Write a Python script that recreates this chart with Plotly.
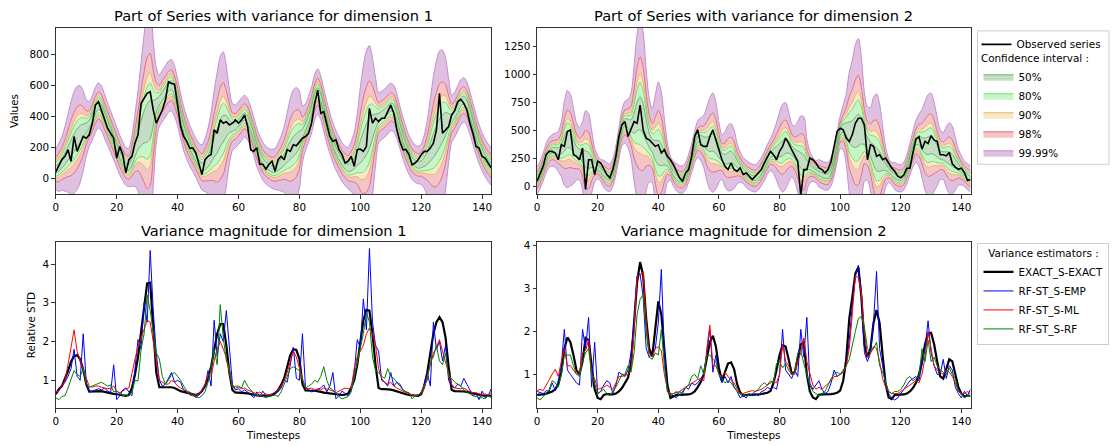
import plotly.graph_objects as go
from statistics import NormalDist

W, H = 1113, 446

# ---- dimension 1 ----
obs_dim1 = [
    40, 77, 120, 141, 183, 109, 269, 173, 216, 269, 258, 280,
    355, 472, 494, 440, 376, 323, 290, 258, 130, 205, 152, 34,
    119, 141, 226, 280, 483, 515, 547, 558, 440, 355, 397, 440,
    504, 622, 611, 607, 472, 333, 269, 237, 194, 194, 162, 98,
    23, 119, 141, 152, 312, 290, 376, 355, 365, 344, 355, 376,
    355, 376, 408, 333, 183, 173, 197, 90, 90, 58, 90, 109,
    45, 119, 141, 119, 184, 173, 216, 209, 237, 258, 269, 290,
    355, 480, 568, 419, 429, 355, 269, 237, 248, 184, 152, 98,
    109, 141, 77, 184, 188, 173, 205, 451, 355, 387, 365, 387,
    387, 429, 472, 419, 312, 237, 184, 184, 152, 87, 98, 119,
    152, 173, 173, 194, 226, 312, 547, 290, 312, 333, 408, 436,
    494, 509, 483, 440, 355, 290, 205, 194, 141, 130, 98, 66,
]
mean_dim1 = [
    55, 70, 95, 125, 160, 195, 230, 260, 285, 305, 325, 350,
    390, 440, 470, 450, 400, 350, 300, 250, 200, 150, 110, 75,
    70, 110, 180, 240, 290, 330, 355, 380, 420, 470, 500, 530,
    560, 590, 600, 560, 490, 400, 320, 260, 210, 170, 130, 95,
    70, 85, 110, 150, 200, 240, 290, 320, 335, 335, 330, 335,
    355, 380, 400, 380, 330, 270, 200, 150, 110, 85, 70, 60,
    60, 75, 95, 120, 150, 180, 205, 225, 250, 285, 330, 380,
    440, 520, 560, 520, 440, 360, 290, 230, 180, 140, 105, 80,
    65, 75, 95, 130, 170, 210, 250, 290, 330, 365, 390, 405,
    420, 440, 460, 450, 400, 330, 260, 200, 150, 115, 95, 85,
    90, 105, 130, 170, 210, 250, 290, 320, 350, 370, 385, 410,
    450, 490, 505, 480, 420, 350, 280, 220, 170, 130, 100, 75,
]
std_exact_dim1 = [
    0.64, 0.77, 0.85, 1.03, 1.24, 1.48, 1.62, 1.65, 1.54, 1.28, 0.9, 0.71,
    0.71, 0.72, 0.72, 0.72, 0.7, 0.68, 0.66, 0.65, 0.64, 0.63, 0.62, 0.6,
    0.62, 0.8, 1.15, 1.6, 2.25, 2.95, 3.5, 3.52, 2.3, 1.2, 0.82, 0.82,
    0.82, 0.82, 0.82, 0.8, 0.75, 0.72, 0.7, 0.68, 0.65, 0.63, 0.62, 0.65,
    0.72, 0.85, 1.05, 1.35, 1.8, 2.2, 2.45, 2.45, 1.9, 1.2, 0.75, 0.68,
    0.68, 0.68, 0.67, 0.66, 0.64, 0.62, 0.61, 0.6, 0.6, 0.6, 0.6, 0.62,
    0.66, 0.75, 0.88, 1.05, 1.35, 1.65, 1.8, 1.78, 1.55, 0.9, 0.74, 0.73,
    0.73, 0.73, 0.72, 0.7, 0.68, 0.67, 0.65, 0.64, 0.63, 0.62, 0.62, 0.63,
    0.66, 0.8, 1.0, 1.4, 2.05, 2.55, 2.82, 2.8, 2.2, 1.4, 0.8, 0.77,
    0.77, 0.77, 0.76, 0.74, 0.71, 0.68, 0.66, 0.64, 0.62, 0.61, 0.6, 0.6,
    0.64, 0.85, 1.2, 1.7, 2.2, 2.5, 2.63, 2.5, 2.1, 1.35, 0.75, 0.72,
    0.72, 0.72, 0.71, 0.7, 0.68, 0.66, 0.64, 0.62, 0.61, 0.6, 0.6, 0.6,
]
std_emp_dim1 = [
    0.65, 0.75, 0.85, 0.95, 1.1, 1.3, 1.8, 1.1, 1.0, 2.2, 0.95, 0.7,
    0.72, 0.75, 0.78, 0.75, 0.8, 0.72, 0.68, 1.4, 0.5, 0.6, 0.75, 0.8,
    0.7, 0.6, 1.3, 2.05, 1.8, 3.0, 2.5, 4.35, 2.8, 1.7, 1.0, 0.85,
    0.9, 1.05, 1.2, 0.95, 1.0, 0.95, 0.75, 0.68, 0.7, 0.62, 0.55, 0.62,
    0.75, 0.85, 1.25, 0.85, 2.55, 1.6, 2.2, 2.0, 2.8, 1.9, 0.9, 0.75,
    0.78, 0.7, 0.75, 0.7, 0.62, 0.55, 0.7, 0.58, 0.72, 0.6, 0.62, 0.65,
    0.68, 0.7, 0.8, 1.0, 0.95, 1.4, 1.85, 1.05, 1.0, 2.2, 0.8, 0.75,
    0.7, 0.72, 0.75, 0.8, 0.88, 0.7, 0.85, 1.2, 0.52, 0.6, 0.72, 0.65,
    0.6, 0.75, 1.2, 2.05, 1.85, 3.1, 2.3, 4.4, 2.5, 1.9, 1.75, 1.0,
    0.95, 0.85, 1.2, 0.85, 0.95, 0.9, 0.75, 0.7, 0.65, 0.62, 0.6, 0.62,
    0.65, 0.9, 1.2, 0.85, 2.5, 1.8, 2.0, 1.5, 1.9, 1.0, 0.85, 0.8,
    0.9, 0.85, 1.05, 0.9, 0.75, 0.6, 0.65, 0.5, 0.72, 0.55, 0.6, 0.78,
]
std_ml_dim1 = [
    0.7, 0.72, 0.85, 1.0, 1.4, 1.85, 2.3, 1.75, 1.5, 1.3, 1.05, 0.85,
    0.82, 0.85, 0.85, 0.82, 0.8, 0.78, 0.8, 0.85, 0.72, 0.68, 0.72, 0.78,
    0.8, 1.2, 1.55, 1.85, 2.1, 2.3, 2.55, 2.5, 2.0, 1.4, 1.0, 0.95,
    0.9, 0.9, 1.0, 0.95, 0.85, 0.8, 0.75, 0.72, 0.68, 0.62, 0.62, 0.65,
    0.75, 0.9, 1.15, 1.1, 1.5, 1.8, 2.0, 1.8, 1.6, 1.2, 0.85, 0.8,
    0.82, 0.78, 0.8, 0.75, 0.72, 0.68, 0.65, 0.7, 0.62, 0.65, 0.62, 0.65,
    0.7, 0.75, 0.85, 1.0, 1.2, 1.5, 1.75, 1.6, 1.3, 1.05, 0.8, 0.78,
    0.8, 0.75, 0.78, 0.75, 0.8, 0.78, 0.75, 0.72, 0.68, 0.72, 0.75, 0.8,
    0.78, 0.8, 1.3, 1.6, 1.75, 1.9, 2.2, 2.35, 2.2, 1.9, 1.3, 1.05,
    0.95, 0.9, 0.95, 0.85, 0.8, 0.75, 0.72, 0.68, 0.65, 0.62, 0.6, 0.62,
    0.65, 0.8, 1.1, 1.4, 1.7, 1.85, 2.05, 1.75, 1.45, 1.2, 0.9, 0.8,
    0.78, 0.78, 0.8, 0.75, 0.7, 0.68, 0.68, 0.65, 0.62, 0.65, 0.62, 0.68,
]
std_rf_dim1 = [
    0.55, 0.5, 0.58, 0.6, 0.8, 1.05, 1.25, 1.15, 1.1, 1.3, 0.9, 0.82,
    0.85, 0.88, 0.9, 0.95, 0.9, 0.85, 0.88, 0.7, 0.72, 0.65, 0.6, 0.62,
    0.6, 0.7, 1.0, 0.98, 1.8, 2.2, 3.2, 2.8, 2.2, 1.7, 1.55, 1.1,
    0.9, 1.0, 1.15, 1.2, 1.1, 1.0, 0.85, 0.75, 0.62, 0.6, 0.58, 0.55,
    0.6, 0.7, 0.95, 1.3, 1.8, 1.4, 2.95, 2.1, 1.5, 1.3, 0.8, 0.85,
    0.85, 0.8, 1.0, 0.85, 0.75, 0.65, 0.6, 0.62, 0.58, 0.55, 0.58, 0.6,
    0.62, 0.58, 0.7, 0.9, 1.1, 1.3, 1.35, 1.3, 1.25, 1.0, 0.8, 0.85,
    0.9, 1.0, 0.95, 1.1, 1.35, 1.0, 0.8, 0.75, 0.65, 0.58, 0.52, 0.55,
    0.58, 0.7, 1.1, 1.5, 1.8, 2.2, 2.75, 2.5, 1.6, 1.25, 1.2, 1.1,
    1.05, 1.3, 1.1, 1.05, 0.95, 0.85, 0.75, 0.7, 0.68, 0.52, 0.6, 0.62,
    0.7, 0.85, 1.0, 1.5, 1.6, 1.9, 1.5, 1.4, 1.7, 1.1, 1.05, 0.95,
    0.9, 0.85, 0.75, 0.7, 0.65, 0.6, 0.58, 0.55, 0.55, 0.52, 0.6, 0.55,
]

# ---- dimension 2 ----
obs_dim2 = [
    44, 104, 177, 281, 310, 310, 296, 236, 369, 355, 488, 502,
    281, 266, 236, 340, -30, 236, 236, 104, 222, 207, 148, 104,
    74, 148, 266, 443, 547, 576, 443, 502, 576, 561, 724, 502,
    429, 414, 384, 355, 369, 296, 325, 266, 236, 192, 133, 74,
    44, 118, 148, 266, 443, 502, 369, 355, 355, 443, 502, 414,
    310, 236, 177, 148, 207, 148, 133, 163, 104, 118, 89, 59,
    89, 118, 148, 207, 266, 310, 281, 236, 310, 355, 429, 384,
    325, 266, 222, -89, 148, 148, 251, 236, 207, 163, 148, 118,
    148, 222, 355, 488, 517, 502, 429, 399, 458, 561, 606, 606,
    547, 236, 369, 355, 266, 281, 236, 251, 207, 163, 133, 89,
    74, 100, 160, 160, 300, 420, 440, 330, 400, 380, 450, 410,
    400, 280, 280, 270, 300, 200, 170, 150, 160, 120, 50, 60,
]
mean_dim2 = [
    50, 100, 170, 250, 300, 320, 320, 310, 330, 380, 420, 410,
    360, 310, 290, 270, 240, 230, 215, 190, 170, 140, 110, 85,
    75, 120, 230, 380, 520, 570, 560, 540, 560, 620, 650, 600,
    500, 410, 360, 320, 300, 280, 250, 210, 160, 110, 80, 60,
    60, 90, 160, 250, 350, 420, 420, 400, 380, 380, 390, 360,
    300, 260, 240, 250, 260, 240, 200, 170, 140, 110, 90, 75,
    70, 90, 130, 180, 240, 280, 300, 310, 320, 340, 360, 350,
    320, 290, 260, 230, 210, 190, 170, 150, 130, 115, 100, 90,
    90, 130, 220, 350, 480, 520, 510, 480, 470, 480, 500, 490,
    440, 380, 330, 280, 240, 220, 200, 170, 140, 110, 90, 75,
    70, 90, 150, 240, 330, 400, 410, 380, 360, 360, 370, 350,
    310, 280, 270, 260, 250, 230, 200, 170, 140, 110, 85, 65,
]
std_exact_dim2 = [
    0.52, 0.52, 0.53, 0.55, 0.57, 0.6, 0.65, 0.77, 1.05, 1.6, 1.86, 1.75,
    1.45, 1.1, 1.0, 1.3, 1.85, 1.8, 1.2, 0.65, 0.45, 0.42, 0.52, 0.54,
    0.53, 0.53, 0.55, 0.6, 0.68, 0.8, 0.92, 1.25, 2.2, 3.15, 3.62, 3.3,
    2.3, 1.6, 1.42, 2.1, 2.7, 2.4, 1.5, 0.75, 0.45, 0.48, 0.52, 0.52,
    0.52, 0.52, 0.53, 0.55, 0.6, 0.7, 0.82, 1.0, 1.4, 1.75, 1.9, 1.65,
    1.15, 0.85, 1.05, 1.25, 1.28, 1.12, 0.77, 0.58, 0.5, 0.52, 0.52, 0.52,
    0.52, 0.53, 0.54, 0.55, 0.57, 0.61, 0.8, 1.1, 1.45, 1.68, 1.65, 1.35,
    1.02, 1.05, 1.35, 1.7, 1.75, 1.0, 0.6, 0.46, 0.42, 0.52, 0.53, 0.53,
    0.53, 0.54, 0.55, 0.57, 0.62, 0.85, 1.35, 2.3, 2.8, 3.35, 3.5, 2.8,
    1.7, 1.4, 1.6, 2.2, 2.5, 2.2, 1.45, 0.77, 0.46, 0.42, 0.52, 0.52,
    0.52, 0.53, 0.55, 0.6, 0.68, 0.8, 1.0, 1.3, 1.7, 1.95, 1.97, 1.7,
    1.3, 0.95, 0.9, 1.15, 1.35, 1.3, 1.0, 0.7, 0.55, 0.48, 0.5, 0.5,
]
std_emp_dim2 = [
    0.6, 0.58, 0.55, 0.62, 0.6, 0.8, 0.62, 0.85, 1.2, 2.05, 1.1, 1.0,
    0.9, 0.8, 0.75, 2.05, 1.6, 2.33, 0.7, 1.75, 0.55, 0.6, 0.75, 0.85,
    0.8, 0.55, 0.75, 1.05, 1.0, 0.95, 1.1, 1.5, 2.2, 3.3, 3.35, 2.8,
    1.6, 1.4, 1.5, 1.6, 2.2, 3.45, 1.5, 0.6, 0.52, 0.5, 0.45, 0.6,
    0.55, 0.7, 0.65, 0.8, 0.75, 0.8, 0.9, 1.0, 1.5, 2.05, 1.05, 1.45,
    1.0, 0.8, 0.95, 0.8, 0.95, 0.7, 0.6, 0.45, 0.5, 0.45, 0.55, 0.5,
    0.55, 0.5, 0.6, 0.62, 0.7, 0.65, 0.7, 0.65, 1.0, 2.05, 1.1, 1.0,
    0.9, 1.1, 0.95, 2.05, 1.4, 2.33, 0.8, 0.65, 0.75, 0.85, 0.65, 0.55,
    0.6, 0.8, 1.1, 0.95, 1.0, 1.05, 1.2, 1.8, 2.6, 3.3, 3.55, 2.9,
    1.5, 1.3, 1.5, 2.2, 3.4, 1.6, 1.2, 0.8, 0.55, 0.45, 0.4, 0.45,
    0.55, 0.65, 0.75, 0.85, 0.9, 0.95, 0.85, 1.2, 1.6, 2.25, 1.5, 1.2,
    1.0, 1.0, 1.35, 0.9, 1.2, 1.1, 0.7, 0.55, 0.45, 0.6, 0.5, 0.65,
]
std_ml_dim2 = [
    0.62, 0.65, 0.62, 0.75, 0.9, 1.0, 1.12, 0.95, 1.3, 1.6, 1.2, 1.2,
    1.1, 1.0, 1.05, 1.5, 1.55, 1.8, 1.0, 0.9, 0.65, 0.68, 0.7, 0.75,
    0.7, 0.65, 0.8, 0.95, 0.95, 0.98, 1.0, 1.1, 2.0, 3.3, 3.3, 3.4,
    2.2, 1.5, 1.4, 1.6, 1.65, 1.55, 1.0, 0.65, 0.55, 0.55, 0.58, 0.6,
    0.65, 0.7, 0.75, 0.8, 0.85, 0.88, 0.9, 0.85, 1.6, 2.15, 1.2, 1.2,
    1.0, 0.95, 1.05, 0.95, 0.85, 0.8, 0.65, 0.55, 0.55, 0.58, 0.6, 0.62,
    0.6, 0.62, 0.65, 0.7, 0.75, 0.8, 0.85, 0.8, 1.0, 1.7, 1.3, 1.2,
    1.0, 1.0, 1.3, 1.5, 1.85, 1.3, 1.0, 0.75, 0.65, 0.7, 0.65, 0.72,
    0.8, 0.85, 0.95, 0.95, 1.0, 1.05, 1.2, 1.6, 2.4, 3.3, 3.25, 2.9,
    2.0, 1.4, 1.5, 1.65, 1.6, 1.3, 0.9, 0.7, 0.6, 0.55, 0.55, 0.55,
    0.6, 0.65, 0.7, 0.75, 0.8, 0.85, 0.8, 1.0, 1.4, 2.0, 1.6, 1.2,
    1.1, 1.05, 1.0, 1.1, 1.05, 0.95, 0.8, 0.6, 0.55, 0.55, 0.6, 0.55,
]
std_rf_dim2 = [
    0.45, 0.4, 0.48, 0.55, 0.65, 0.85, 0.8, 0.7, 1.0, 1.45, 1.45, 1.45,
    1.2, 1.0, 0.95, 1.3, 1.5, 1.6, 1.0, 0.8, 0.55, 0.6, 0.65, 0.55,
    0.5, 0.6, 0.7, 0.85, 1.0, 1.0, 1.2, 1.05, 1.5, 2.4, 2.75, 2.85,
    2.0, 1.4, 1.35, 1.5, 1.45, 2.05, 1.2, 0.6, 0.5, 0.55, 0.6, 0.5,
    0.6, 0.7, 0.75, 0.95, 1.0, 0.9, 1.2, 1.0, 1.45, 1.45, 1.35, 1.3,
    1.0, 0.9, 0.8, 0.85, 0.8, 0.7, 0.6, 0.55, 0.5, 0.52, 0.5, 0.55,
    0.6, 0.65, 0.75, 0.8, 0.75, 0.85, 0.8, 1.25, 1.3, 1.15, 1.25, 1.1,
    1.0, 1.05, 1.5, 1.55, 1.25, 1.0, 0.75, 0.6, 0.55, 0.5, 0.55, 0.6,
    0.75, 0.9, 1.0, 1.05, 1.0, 1.1, 1.2, 1.35, 1.7, 2.0, 2.3, 2.35,
    2.1, 1.6, 1.5, 1.6, 1.75, 1.2, 1.05, 0.8, 0.6, 0.55, 0.6, 0.6,
    0.65, 0.75, 0.9, 0.95, 0.85, 0.9, 0.95, 1.6, 1.3, 1.8, 1.3, 1.4,
    1.2, 1.1, 1.05, 1.0, 1.15, 1.0, 0.9, 0.6, 0.55, 0.45, 0.5, 0.5,
]

# value units per unit of relative STD (bands = mean +- z * unit * exact std)
sd_unit = {1: 52, 2: 60}

ci_names = ["50%", "80%", "90%", "98%", "99.99%"]
ci_levels = [0.50, 0.80, 0.90, 0.98, 0.9999]
# fills are pre-blended on white so each ring keeps its own tint
ci_fill = ["#c3dec3", "#c8f5c8", "#f5e9c8", "#f5c4c4", "#dfc0e0"]
ci_edge = ["#6fb36f", "#74dc74", "#e8b56a", "#e07080", "#c48ccc"]

est_names = ["EXACT_S-EXACT", "RF-ST_S-EMP", "RF-ST_S-ML", "RF-ST_S-RF"]
est_colors = ["#000000", "#0000ff", "#ff0000", "#008000"]
est_widths = [2.2, 1, 1, 1]

FONT = "DejaVu Sans"
fig = go.Figure()


def add_bands(dim, obs, mean, std, xa, ya):
    t = list(range(len(mean)))
    # widest interval first so the narrow ones sit on top
    for i in reversed(range(len(ci_levels))):
        z = NormalDist().inv_cdf(0.5 + ci_levels[i] / 2)
        half = [z * sd_unit[dim] * s for s in std]
        lo = [m - h for m, h in zip(mean, half)]
        hi = [m + h for m, h in zip(mean, half)]
        fig.add_trace(go.Scatter(
            x=t, y=lo, mode="lines", xaxis=xa, yaxis=ya,
            line=dict(color=ci_edge[i], width=1, shape="spline", smoothing=0.8),
            showlegend=False, hoverinfo="skip"))
        fig.add_trace(go.Scatter(
            x=t, y=hi, mode="lines", xaxis=xa, yaxis=ya, fill="tonexty",
            fillcolor=ci_fill[i],
            line=dict(color=ci_edge[i], width=1, shape="spline", smoothing=0.8),
            name=ci_names[i], legend="legend3", legendrank=i + 1,
            showlegend=(dim == 2), hoverinfo="skip"))
    fig.add_trace(go.Scatter(
        x=list(range(len(obs))), y=obs, mode="lines", xaxis=xa, yaxis=ya,
        line=dict(color="black", width=1.6), name="Observed series",
        legend="legend", showlegend=(dim == 2)))


def add_estimators(dim, series, xa, ya):
    for name, ys, col, w in zip(est_names, series, est_colors, est_widths):
        fig.add_trace(go.Scatter(
            x=list(range(len(ys))), y=ys, mode="lines", xaxis=xa, yaxis=ya,
            line=dict(color=col, width=w), name=name, legend="legend2",
            showlegend=(dim == 2)))


add_bands(1, obs_dim1, mean_dim1, std_exact_dim1, "x", "y")
add_bands(2, obs_dim2, mean_dim2, std_exact_dim2, "x2", "y2")
add_estimators(1, [std_exact_dim1, std_emp_dim1, std_ml_dim1, std_rf_dim1], "x3", "y3")
add_estimators(2, [std_exact_dim2, std_emp_dim2, std_ml_dim2, std_rf_dim2], "x4", "y4")

left = [53 / W, 490 / W]
right = [536 / W, 971 / W]
top = [1 - 193 / H, 1 - 26 / H]
bot = [1 - 408 / H, 1 - 241 / H]

tick_font = dict(family=FONT, size=10.4, color="#000")
axis_common = dict(showline=True, mirror=True, linecolor="#333", linewidth=1,
                   ticks="outside", ticklen=3.5, tickwidth=0.8, tickcolor="#333",
                   showgrid=False, zeroline=False, tickfont=tick_font)
xcommon = dict(axis_common, range=[0, 143], tickvals=list(range(0, 141, 20)))
lab_font = dict(family=FONT, size=10.4, color="#000")

fig.update_layout(
    width=W, height=H,
    margin=dict(l=0, r=0, t=0, b=0),
    paper_bgcolor="white", plot_bgcolor="white",
    font=dict(family=FONT, size=10.4, color="#000"),
    xaxis=dict(xcommon, domain=left, anchor="y"),
    yaxis=dict(axis_common, domain=top, anchor="x", range=[-103, 970],
               tickvals=[0, 200, 400, 600, 800],
               title=dict(text="Values", font=lab_font, standoff=8)),
    xaxis2=dict(xcommon, domain=right, anchor="y2"),
    yaxis2=dict(axis_common, domain=top, anchor="x2", range=[-71, 1412],
                tickvals=[0, 250, 500, 750, 1000, 1250]),
    xaxis3=dict(xcommon, domain=left, anchor="y3",
                title=dict(text="Timesteps", font=lab_font, standoff=5)),
    yaxis3=dict(axis_common, domain=bot, anchor="x3", range=[0.28, 4.57],
                tickvals=[1, 2, 3, 4],
                title=dict(text="Relative STD", font=lab_font, standoff=4)),
    xaxis4=dict(xcommon, domain=right, anchor="y4",
                title=dict(text="Timesteps", font=lab_font, standoff=5)),
    yaxis4=dict(axis_common, domain=bot, anchor="x4", range=[0.21, 4.09],
                tickvals=[1, 2, 3, 4]),
    legend=dict(x=977 / W, y=1 - 28 / H, xanchor="left", yanchor="top",
                bgcolor="rgba(255,255,255,0)", borderwidth=0,
                font=dict(family=FONT, size=10.4)),
    legend3=dict(x=979 / W, y=1 - 47 / H, xanchor="left", yanchor="top",
                 bgcolor="rgba(255,255,255,0)", borderwidth=0,
                 title=dict(text="Confidence interval :", side="top center",
                            font=dict(family=FONT, size=10.4)),
                 font=dict(family=FONT, size=10.4), traceorder="normal"),
    legend2=dict(x=978 / W, y=1 - 242 / H, xanchor="left", yanchor="top",
                 bgcolor="white", bordercolor="#cccccc", borderwidth=1,
                 title=dict(text="Variance estimators :", side="top center",
                            font=dict(family=FONT, size=10.4)),
                 font=dict(family=FONT, size=10.4)),
)

# frame around the two stacked legends of the top row
fig.add_shape(type="rect", xref="paper", yref="paper",
              x0=978 / W, x1=1110 / W, y0=1 - 163 / H, y1=1 - 29 / H,
              line=dict(color="#cccccc", width=1), fillcolor="rgba(0,0,0,0)",
              layer="below")

titles = [
    ("Part of Series with variance for dimension 1", left, 1 - 14 / H),
    ("Part of Series with variance for dimension 2", right, 1 - 14 / H),
    ("Variance magnitude for dimension 1", left, 1 - 230 / H),
    ("Variance magnitude for dimension 2", right, 1 - 230 / H),
]
for text, dom, ypos in titles:
    fig.add_annotation(text=text, xref="paper", yref="paper",
                       x=(dom[0] + dom[1]) / 2, y=ypos, showarrow=False,
                       xanchor="center", yanchor="middle",
                       font=dict(family=FONT, size=14.6, color="#000"))

# drop the page margin so the 1113x446 figure fills the window exactly
fig.write_html("out.html", config={"displayModeBar": False},
               post_script="document.body.style.margin='0';")
